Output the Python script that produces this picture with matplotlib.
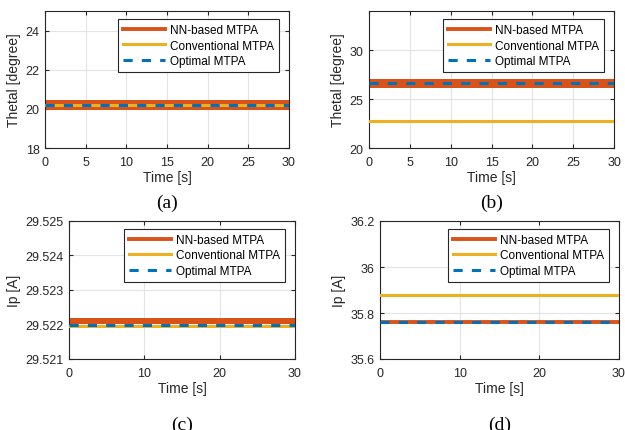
import numpy as np
import matplotlib.pyplot as plt

# MATLAB default colours
col_nn = '#D95319'
col_conv = '#EDB120'
col_opt = '#0072BD'

t = [0, 30]

# (a) theta, case 1
a_nn = 20.21
a_nn_band = (19.96, 20.47)
a_conv = 20.21
a_opt = 20.21
# (b) theta, case 2
b_nn = 26.64
b_nn_band = (26.18, 27.10)
b_conv = 22.8
b_opt = 26.64
# (c) Ip, case 1
c_nn = 29.52209
c_nn_band = (29.52201, 29.52218)
c_conv = 29.52196
c_opt = 29.52199
# (d) Ip, case 2
d_nn = 35.761
d_nn_band = (35.7565, 35.7655)
d_conv = 35.8786
d_opt = 35.761

plt.rcParams['font.family'] = ['Liberation Sans', 'DejaVu Sans']

fig = plt.figure(figsize=(6.25, 4.31), dpi=100)
W, H = 625, 431

# pixel boxes: left, right, top, bottom, caption y
boxes = [(45, 289, 12, 149, 203), (369, 614, 12, 149, 203),
         (69, 295, 222, 360, 425), (380, 619, 222, 360, 425)]

panels = [
    (a_nn, a_nn_band, a_conv, a_opt, (18, 25), [18, 20, 22, 24],
     [0, 5, 10, 15, 20, 25, 30], 'Thetal [degree]', '(a)', None),
    (b_nn, b_nn_band, b_conv, b_opt, (20, 34), [20, 25, 30],
     [0, 5, 10, 15, 20, 25, 30], 'Thetal [degree]', '(b)', None),
    (c_nn, c_nn_band, c_conv, c_opt, (29.521, 29.525),
     [29.521, 29.522, 29.523, 29.524, 29.525], [0, 10, 20, 30], 'Ip [A]', '(c)',
     ['29.521', '29.522', '29.523', '29.524', '29.525']),
    (d_nn, d_nn_band, d_conv, d_opt, (35.6, 36.2),
     [35.6, 35.8, 36.0, 36.2], [0, 10, 20, 30], 'Ip [A]', '(d)',
     ['35.6', '35.8', '36', '36.2']),
]

for (l, r, top, bot, capy), (nn, band, conv, opt, ylim, yt, xt, ylab, cap, ytl) in zip(boxes, panels):
    w_px, h_px = r - l, bot - top
    ax = fig.add_axes([l / W, 1 - bot / H, w_px / W, h_px / H])
    ax.fill_between(t, band[0], band[1], color=col_nn, lw=0, zorder=2)
    ax.plot(t, [nn, nn], color=col_nn, lw=2.8, label='NN-based MTPA', zorder=2)
    ax.plot(t, [conv, conv], color=col_conv, lw=2.2, label='Conventional MTPA', zorder=3)
    ax.plot(t, [opt, opt], color=col_opt, lw=2.2, ls=(0, (3, 3)), label='Optimal MTPA', zorder=4)
    ax.set_xlim(0, 30)
    ax.set_ylim(*ylim)
    ax.set_xticks(xt)
    ax.set_yticks(yt)
    if ytl:
        ax.set_yticklabels(ytl)
    ax.grid(True, color='#e3e3e3', lw=0.8)
    ax.set_axisbelow(True)
    ax.tick_params(direction='in', top=True, right=True, labelsize=9, colors='#262626',
                   length=3)
    ax.tick_params(axis='x', pad=5.5)
    ax.tick_params(axis='y', pad=4)
    for s in ax.spines.values():
        s.set_color('#262626')
        s.set_linewidth(0.8)
    ax.set_xlabel('Time [s]', fontsize=10, color='#262626', labelpad=2)
    ax.set_ylabel(ylab, fontsize=10, color='#262626', labelpad=3)
    leg = ax.legend(loc='upper right', bbox_to_anchor=(1 - 10 / w_px, 1 - 8 / h_px),
                    borderaxespad=0, fontsize=8.5, frameon=True, fancybox=False,
                    edgecolor='#262626', framealpha=1, handlelength=3.6,
                    borderpad=0.4, labelspacing=0.32, handletextpad=0.4)
    leg.get_frame().set_linewidth(0.8)
    fig.text((l + r) / 2 / W, 1 - capy / H, cap, ha='center', va='center',
             fontsize=14, family='Liberation Serif')

fig.savefig('out.png', dpi=100)
